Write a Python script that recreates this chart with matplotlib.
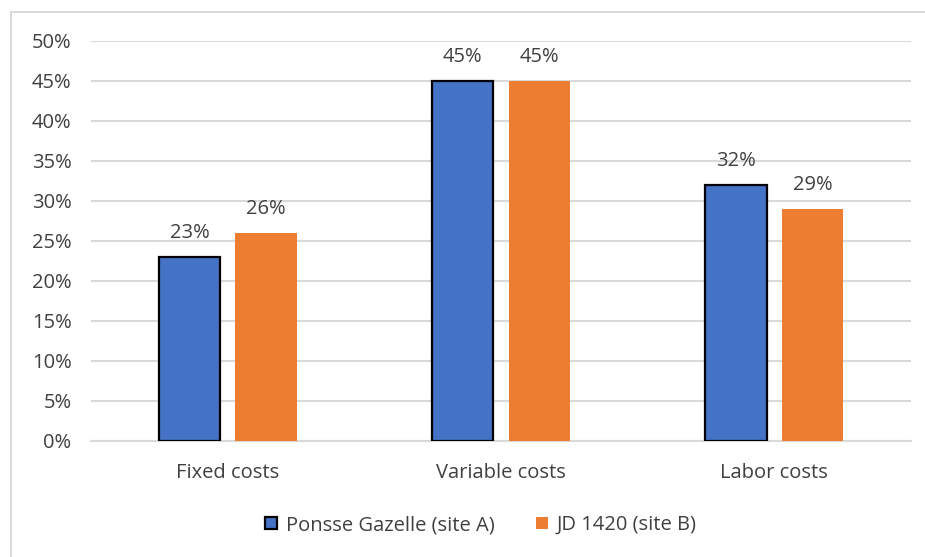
import numpy as np
import matplotlib.pyplot as plt
from matplotlib.patches import Rectangle

categories = ["Fixed costs", "Variable costs", "Labor costs"]
site_a = [23, 45, 32]   # Ponsse Gazelle (site A), %
site_b = [26, 45, 29]   # JD 1420 (site B), %
series_names = ["Ponsse Gazelle (site A)", "JD 1420 (site B)"]
yticks = [0, 5, 10, 15, 20, 25, 30, 35, 40, 45, 50]

BLUE = "#4472C4"
ORANGE = "#ED7D31"
GRID = "#D9D9D9"
TEXT = "#404040"
FS = 14.5

plt.rcParams["font.family"] = ["Open Sans", "DejaVu Sans"]

W, H = 925, 557
fig = plt.figure(figsize=(W / 100, H / 100), dpi=100)

# chart area border (cropped at right/bottom in the original)
fig.patches.append(Rectangle((11 / W, -0.05), 1.0, 1 - 12 / H + 0.05,
                             transform=fig.transFigure, fill=False,
                             edgecolor=GRID, linewidth=1.5))

ax = fig.add_axes([91 / W, 1 - 441 / H, 820 / W, 400 / H])

x = np.arange(len(categories))
bw = 0.224
off = 0.14

bars_a = ax.bar(x - off, site_a, bw, color=BLUE, edgecolor="black",
                linewidth=1.6, label=series_names[0], zorder=3)
bars_b = ax.bar(x + off, site_b, bw, color=ORANGE, edgecolor="none",
                label=series_names[1], zorder=3)

for bars in (bars_a, bars_b):
    for b in bars:
        ax.annotate(f"{b.get_height():.0f}%",
                    (b.get_x() + b.get_width() / 2, b.get_height()),
                    xytext=(0, 10), textcoords="offset points",
                    ha="center", va="bottom", fontsize=FS, color=TEXT)

ax.set_xlim(-0.5, len(categories) - 0.5)
ax.set_ylim(0, 50)
ax.set_yticks(yticks)
ax.set_yticklabels([f"{t}%" for t in yticks])
ax.set_xticks(x)
ax.set_xticklabels(categories)
ax.tick_params(axis="both", length=0, labelsize=FS, labelcolor=TEXT)
ax.tick_params(axis="y", pad=14)
ax.tick_params(axis="x", pad=16)

ax.grid(axis="y", color=GRID, linewidth=1.5, zorder=0)
for s in ("top", "right", "left"):
    ax.spines[s].set_visible(False)
ax.spines["bottom"].set_color(GRID)
ax.spines["bottom"].set_linewidth(1.5)

leg = fig.legend(handles=[bars_a, bars_b], labels=series_names,
                 loc="center", bbox_to_anchor=(481 / W, 1 - 525 / H),
                 ncol=2, frameon=False, fontsize=FS, handlelength=0.6,
                 handleheight=0.6, handletextpad=0.45, columnspacing=2.0)
for t in leg.get_texts():
    t.set_color(TEXT)

fig.savefig("out.png", dpi=100)
